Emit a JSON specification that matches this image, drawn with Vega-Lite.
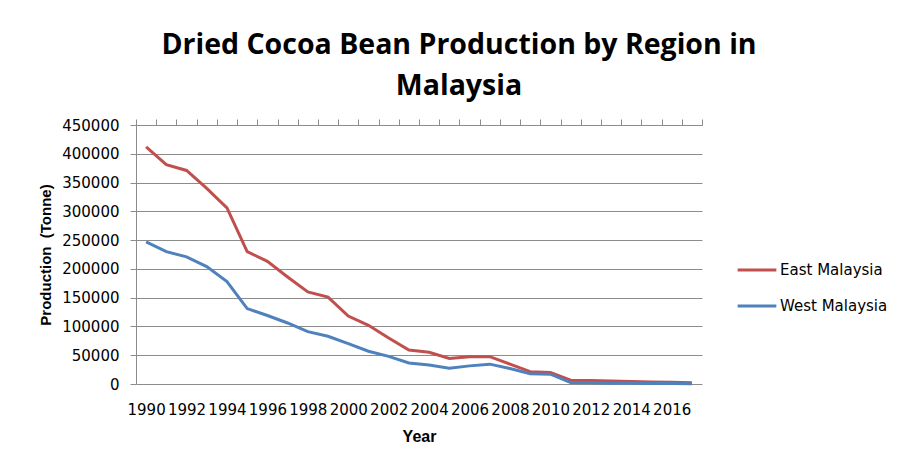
{
  "$schema": "https://vega.github.io/schema/vega-lite/v6.json",
  "width": 566,
  "height": 259,
  "autosize": "none",
  "padding": {"left": 136, "top": 125, "right": 202, "bottom": 85},
  "background": "white",
  "title": {
    "text": ["Dried Cocoa Bean Production by Region in", "Malaysia"],
    "font": "Open Sans",
    "fontSize": 28.5,
    "fontWeight": "bold",
    "color": "black",
    "anchor": "middle",
    "dx": 40,
    "lineHeight": 41,
    "offset": 18
  },
  "config": {
    "view": {"stroke": null},
    "axis": {
      "labelFont": "DejaVu Sans",
      "labelFontSize": 15,
      "labelColor": "black",
      "titleFont": "Liberation Sans",
      "titleFontSize": 15,
      "titleFontWeight": "bold",
      "titleColor": "black",
      "domainColor": "#8c8c8c",
      "tickColor": "#8c8c8c",
      "gridColor": "#8c8c8c"
    },
    "legend": {
      "labelFont": "DejaVu Sans",
      "labelFontSize": 15,
      "labelColor": "black"
    }
  },
  "data": {
    "values": [
      {"year": 1990, "region": "East Malaysia", "value": 412000},
      {"year": 1991, "region": "East Malaysia", "value": 381000},
      {"year": 1992, "region": "East Malaysia", "value": 371000},
      {"year": 1993, "region": "East Malaysia", "value": 340000},
      {"year": 1994, "region": "East Malaysia", "value": 306000},
      {"year": 1995, "region": "East Malaysia", "value": 230000},
      {"year": 1996, "region": "East Malaysia", "value": 213000},
      {"year": 1997, "region": "East Malaysia", "value": 186000},
      {"year": 1998, "region": "East Malaysia", "value": 160000},
      {"year": 1999, "region": "East Malaysia", "value": 151000},
      {"year": 2000, "region": "East Malaysia", "value": 118000},
      {"year": 2001, "region": "East Malaysia", "value": 102000},
      {"year": 2002, "region": "East Malaysia", "value": 80000},
      {"year": 2003, "region": "East Malaysia", "value": 59000},
      {"year": 2004, "region": "East Malaysia", "value": 55000},
      {"year": 2005, "region": "East Malaysia", "value": 44500},
      {"year": 2006, "region": "East Malaysia", "value": 47500},
      {"year": 2007, "region": "East Malaysia", "value": 47500},
      {"year": 2008, "region": "East Malaysia", "value": 34500},
      {"year": 2009, "region": "East Malaysia", "value": 21500},
      {"year": 2010, "region": "East Malaysia", "value": 20000},
      {"year": 2011, "region": "East Malaysia", "value": 6500},
      {"year": 2012, "region": "East Malaysia", "value": 6000},
      {"year": 2013, "region": "East Malaysia", "value": 5000},
      {"year": 2014, "region": "East Malaysia", "value": 4500},
      {"year": 2015, "region": "East Malaysia", "value": 3500},
      {"year": 2016, "region": "East Malaysia", "value": 3000},
      {"year": 2017, "region": "East Malaysia", "value": 2000},
      {"year": 1990, "region": "West Malaysia", "value": 247000},
      {"year": 1991, "region": "West Malaysia", "value": 230000},
      {"year": 1992, "region": "West Malaysia", "value": 221000},
      {"year": 1993, "region": "West Malaysia", "value": 204000},
      {"year": 1994, "region": "West Malaysia", "value": 178000},
      {"year": 1995, "region": "West Malaysia", "value": 131000},
      {"year": 1996, "region": "West Malaysia", "value": 119000},
      {"year": 1997, "region": "West Malaysia", "value": 106000},
      {"year": 1998, "region": "West Malaysia", "value": 91000},
      {"year": 1999, "region": "West Malaysia", "value": 83000},
      {"year": 2000, "region": "West Malaysia", "value": 70000},
      {"year": 2001, "region": "West Malaysia", "value": 57000},
      {"year": 2002, "region": "West Malaysia", "value": 48000},
      {"year": 2003, "region": "West Malaysia", "value": 36500},
      {"year": 2004, "region": "West Malaysia", "value": 33000},
      {"year": 2005, "region": "West Malaysia", "value": 27500},
      {"year": 2006, "region": "West Malaysia", "value": 31500},
      {"year": 2007, "region": "West Malaysia", "value": 34500},
      {"year": 2008, "region": "West Malaysia", "value": 27000},
      {"year": 2009, "region": "West Malaysia", "value": 18000},
      {"year": 2010, "region": "West Malaysia", "value": 17000},
      {"year": 2011, "region": "West Malaysia", "value": 2500},
      {"year": 2012, "region": "West Malaysia", "value": 2000},
      {"year": 2013, "region": "West Malaysia", "value": 1500},
      {"year": 2014, "region": "West Malaysia", "value": 1500},
      {"year": 2015, "region": "West Malaysia", "value": 1000},
      {"year": 2016, "region": "West Malaysia", "value": 800},
      {"year": 2017, "region": "West Malaysia", "value": 500}
    ]
  },
  "layer": [
    {
      "mark": {"type": "line", "strokeWidth": 3},
      "encoding": {
        "x": {
          "field": "year",
          "type": "quantitative",
          "scale": {"domain": [1989.5, 2017.5], "nice": false, "zero": false},
          "axis": {
            "values": [1990, 1992, 1994, 1996, 1998, 2000, 2002, 2004, 2006, 2008, 2010, 2012, 2014, 2016],
            "format": "d",
            "tickSize": 0,
            "domain": false,
            "grid": false,
            "labelPadding": 18,
            "labelFlush": false,
            "labelOverlap": false,
            "title": "Year",
            "titleFontSize": 16,
            "titlePadding": 11
          }
        },
        "y": {
          "field": "value",
          "type": "quantitative",
          "scale": {"domain": [0, 450000], "nice": false},
          "axis": {
            "values": [0, 50000, 100000, 150000, 200000, 250000, 300000, 350000, 400000, 450000],
            "format": "d",
            "tickSize": 6,
            "labelPadding": 11,
            "labelOverlap": false,
            "grid": true,
            "title": "Production\u00a0\u00a0(Tonne)",
            "titlePadding": 8
          }
        },
        "color": {
          "field": "region",
          "type": "nominal",
          "scale": {"domain": ["East Malaysia", "West Malaysia"], "range": ["#C0504D", "#4F81BD"]},
          "legend": {
            "title": null,
            "orient": "none",
            "legendX": 600,
            "legendY": 124,
            "symbolType": "stroke",
            "symbolSize": 1500,
            "symbolStrokeWidth": 3,
            "labelOffset": 2,
            "rowPadding": 7
          }
        }
      }
    },
    {
      "mark": {"type": "line", "opacity": 0},
      "encoding": {
        "x": {
          "field": "year",
          "type": "quantitative",
          "axis": {
            "values": [1989.5, 1990.5, 1991.5, 1992.5, 1993.5, 1994.5, 1995.5, 1996.5, 1997.5, 1998.5, 1999.5, 2000.5, 2001.5, 2002.5, 2003.5, 2004.5, 2005.5, 2006.5, 2007.5, 2008.5, 2009.5, 2010.5, 2011.5, 2012.5, 2013.5, 2014.5, 2015.5, 2016.5, 2017.5],
            "labels": false,
            "tickSize": 6,
            "grid": false,
            "title": null
          }
        },
        "y": {
          "field": "value",
          "type": "quantitative",
          "axis": {
            "values": [0, 50000, 100000, 150000, 200000, 250000, 300000, 350000, 400000, 450000],
            "format": "d",
            "tickSize": 6,
            "labelPadding": 11,
            "labelOverlap": false,
            "grid": true,
            "title": "Production\u00a0\u00a0(Tonne)",
            "titlePadding": 8
          }
        },
        "detail": {"field": "region"}
      }
    }
  ],
  "resolve": {"axis": {"x": "independent"}}
}
